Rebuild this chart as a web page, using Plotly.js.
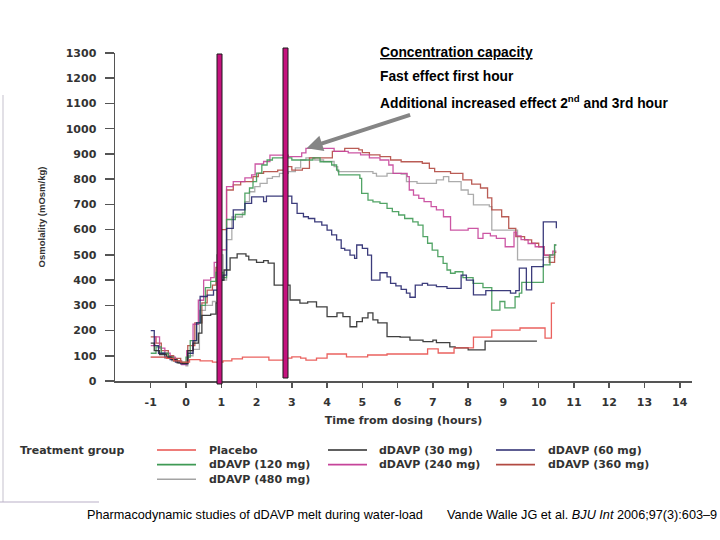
<!DOCTYPE html>
<html>
<head>
<meta charset="utf-8">
<script src="https://cdn.plot.ly/plotly-3.0.1.min.js"></script>
<style>
  html, body { margin: 0; padding: 0; background: #ffffff; }
  #chart { width: 720px; height: 540px; }
</style>
</head>
<body>
<div id="chart"></div>
<script>
// Urine osmolality (mOsm/kg) versus time from dosing (hours), step profiles per treatment group.

const groupNames = ['Placebo', 'dDAVP (30 mg)', 'dDAVP (60 mg)', 'dDAVP (120 mg)', 'dDAVP (240 mg)', 'dDAVP (360 mg)', 'dDAVP (480 mg)'];

const placeboT = [-1, -0.55, -0.35, -0.15, 0.1, 0.4, 0.75, 1.05, 1.3, 1.6, 2.35, 2.85, 3.0, 3.25, 3.4, 3.7, 4.0, 4.55, 5.15, 5.7, 6.85, 7.15, 7.6, 8.15, 8.67, 9.47, 10.18, 10.36, 10.46];
const placeboV = [95, 90, 80, 75, 85, 80, 75, 80, 88, 95, 83, 91, 96, 91, 83, 91, 107, 96, 103, 107, 127, 111, 131, 174, 202, 210, 170, 309, 309];

const dose30T = [-1, -0.9, -0.75, -0.55, -0.4, -0.25, -0.1, 0.05, 0.2, 0.35, 0.45, 0.7, 0.85, 1.0, 1.08, 1.25, 1.45, 1.7, 1.78, 2.0, 2.2, 2.33, 2.5, 2.95, 3.23, 3.45, 3.7, 4.0, 4.28, 4.45, 4.65, 4.84, 5.0, 5.16, 5.3, 5.44, 5.7, 6.07, 6.35, 6.72, 7.0, 7.1, 7.48, 7.63, 8.0, 8.48, 9.95];
const dose30V = [150, 120, 105, 95, 85, 72, 70, 120, 150, 190, 260, 265, 310, 400, 440, 488, 504, 495, 480, 470, 477, 467, 380, 321, 309, 314, 294, 255, 270, 255, 215, 235, 250, 270, 242, 230, 176, 174, 162, 156, 162, 152, 135, 131, 123, 158, 158];

const dose60T = [-1, -0.9, -0.78, -0.6, -0.45, -0.3, -0.15, 0.05, 0.2, 0.3, 0.4, 0.6, 0.78, 0.9, 1.05, 1.15, 1.34, 1.67, 1.86, 2.2, 2.28, 3.0, 3.15, 3.33, 3.47, 3.65, 3.85, 4.0, 4.13, 4.27, 4.4, 4.5, 4.65, 4.78, 4.84, 5.0, 5.15, 5.26, 5.5, 5.7, 5.8, 5.95, 6.1, 6.25, 6.35, 6.5, 6.7, 6.85, 7.1, 7.4, 7.8, 7.95, 8.15, 8.5, 9.2, 9.35, 9.45, 9.65, 9.8, 10.13, 10.5];
const dose60V = [200, 140, 110, 95, 85, 75, 68, 110, 160, 230, 335, 340, 360, 400, 420, 605, 678, 704, 730, 711, 733, 704, 664, 651, 644, 631, 618, 598, 579, 559, 526, 519, 499, 486, 539, 526, 499, 400, 429, 413, 387, 377, 363, 348, 332, 380, 387, 380, 374, 367, 420, 400, 341, 358, 348, 358, 447, 361, 453, 631, 605];

const dose120T = [-1, -0.85, -0.7, -0.5, -0.35, -0.15, 0.0, 0.12, 0.3, 0.42, 0.55, 0.7, 0.85, 1.05, 1.15, 1.4, 1.67, 1.8, 1.9, 2.0, 2.15, 2.3, 2.45, 3.0, 3.6, 3.8, 4.13, 4.27, 4.33, 4.93, 4.98, 5.16, 5.3, 5.5, 5.7, 5.85, 6.03, 6.2, 6.43, 6.58, 6.72, 6.85, 6.98, 7.14, 7.29, 7.4, 7.5, 7.63, 7.85, 8.14, 8.42, 8.67, 8.9, 9.04, 9.33, 9.45, 9.52, 10.13, 10.32, 10.45, 10.5];
const dose120V = [110, 135, 110, 95, 80, 75, 95, 160, 230, 300, 370, 395, 430, 410, 640, 660, 745, 765, 790, 824, 856, 876, 884, 876, 884, 869, 856, 836, 817, 803, 744, 717, 710, 704, 684, 671, 658, 644, 631, 618, 572, 546, 519, 493, 466, 440, 427, 433, 410, 387, 370, 281, 315, 290, 334, 348, 391, 460, 500, 539, 539];

const dose240T = [-1, -0.88, -0.75, -0.6, -0.45, -0.3, -0.12, 0.02, 0.2, 0.35, 0.5, 0.7, 0.8, 0.95, 1.15, 1.34, 1.67, 1.86, 1.96, 2.2, 2.38, 2.9, 3.28, 3.4, 4.2, 4.6, 4.95, 5.2, 5.5, 5.75, 5.87, 6.27, 6.33, 6.45, 6.6, 6.75, 6.95, 7.1, 7.3, 7.5, 8.0, 8.28, 8.42, 8.63, 8.8, 9.05, 9.3, 9.37, 9.5, 9.7, 9.9, 10.15, 10.4, 10.5];
const dose240V = [140, 175, 130, 110, 95, 80, 65, 120, 225, 320, 400, 410, 470, 520, 770, 790, 805, 817, 860, 870, 895, 889, 904, 922, 910, 904, 896, 884, 876, 856, 823, 810, 757, 737, 724, 711, 691, 678, 651, 598, 605, 565, 585, 575, 565, 532, 590, 575, 560, 545, 532, 499, 515, 515];

const dose360T = [-1, -0.85, -0.7, -0.5, -0.35, -0.15, 0.05, 0.25, 0.45, 0.6, 0.75, 0.85, 1.0, 1.15, 1.34, 1.55, 1.9, 2.05, 2.2, 2.6, 2.85, 3.0, 3.3, 3.5, 4.15, 4.5, 4.9, 5.0, 5.2, 5.5, 5.8, 6.1, 6.7, 6.9, 7.05, 7.5, 7.85, 8.1, 8.35, 8.55, 8.67, 8.95, 9.15, 9.35, 9.6, 9.8, 10.0, 10.15, 10.3, 10.45, 10.5];
const dose360V = [175, 150, 120, 100, 90, 72, 140, 230, 310, 360, 380, 450, 600, 757, 777, 790, 810, 823, 830, 836, 850, 836, 843, 884, 910, 922, 916, 905, 896, 889, 876, 869, 863, 843, 830, 823, 797, 780, 765, 726, 678, 651, 605, 572, 559, 546, 532, 499, 470, 510, 510];

const dose480T = [-1, -0.6, -0.4, -0.2, 0.0, 0.05, 0.2, 0.38, 0.55, 0.75, 0.87, 1.05, 1.15, 1.3, 1.6, 1.67, 1.8, 1.95, 2.1, 2.3, 2.45, 2.65, 2.9, 3.1, 3.25, 3.4, 3.65, 3.9, 4.2, 4.3, 5.3, 5.4, 5.7, 6.1, 6.25, 6.55, 7.1, 7.3, 7.45, 7.8, 8.0, 8.15, 8.6, 8.67, 9.4, 10.13, 10.45, 10.5];
const dose480V = [95, 90, 80, 70, 60, 100, 125, 280, 300, 315, 500, 400, 560, 650, 666, 711, 750, 770, 783, 803, 810, 823, 830, 845, 876, 884, 876, 870, 850, 830, 823, 812, 823, 820, 790, 783, 797, 810, 790, 757, 740, 698, 691, 598, 480, 490, 539, 539];

const groupColors = ['#e8504c', '#2b2b2b', '#27276e', '#3f9a55', '#c6449a', '#b24a42', '#a3a3a3'];

const xTicks = [-1, 0, 1, 2, 3, 4, 5, 6, 7, 8, 9, 10, 11, 12, 13, 14];
const yTicks = [0, 100, 200, 300, 400, 500, 600, 700, 800, 900, 1000, 1100, 1200, 1300];

const seriesT = [placeboT, dose30T, dose60T, dose120T, dose240T, dose360T, dose480T];
const seriesV = [placeboV, dose30V, dose60V, dose120V, dose240V, dose360V, dose480V];

// Lower-dose traces drawn last so they sit on top, as in the printed figure.
const drawOrder = [6, 5, 4, 3, 2, 1, 0];
const traces = drawOrder.map(i => ({
  type: 'scatter',
  mode: 'lines',
  name: groupNames[i],
  x: seriesT[i],
  y: seriesV[i],
  line: { shape: 'hv', color: groupColors[i], width: 1.3 },
  opacity: 0.9,
  showlegend: false,
  hoverinfo: 'skip'
}));

// Page geometry (pixels) for the framed plot area.
const W = 720, H = 540;
const M = { l: 115, r: 28, t: 53, b: 159 };
const plotW = W - M.l - M.r, plotH = H - M.t - M.b;
const px = x => (x - M.l) / plotW;
const py = y => (H - M.b - y) / plotH;

const tickFont = { family: 'DejaVu Sans, Verdana, sans-serif', size: 11, color: '#333333', weight: 'bold' };
const legendFont = { family: 'DejaVu Sans, Verdana, sans-serif', size: 11, color: '#333333', weight: 'bold' };
const noteFont = { family: 'Liberation Sans, Arial, sans-serif', size: 13.8, color: '#000000', weight: 'bold' };
const captionFont = { family: 'Liberation Sans, Arial, sans-serif', size: 12.7, color: '#000000' };

const shapes = [];
const annotations = [];

// Marker bars at the end of the first hour and near the third hour.
const markerBars = [
  { x0: 0.879, x1: 1.021, y0: py(384), y1: py(54) },
  { x0: 2.750, x1: 2.892, y0: py(378), y1: py(48) }
];
markerBars.forEach(b => shapes.push({
  type: 'rect', xref: 'x', yref: 'paper', x0: b.x0, x1: b.x1, y0: b.y0, y1: b.y1,
  fillcolor: '#c5127e', line: { color: '#1a1a1a', width: 1 }, layer: 'above'
}));

// Side frame of the figure panel.
shapes.push({ type: 'line', xref: 'paper', yref: 'paper', x0: px(3), x1: px(3), y0: py(95), y1: py(502), line: { color: '#cfcbd6', width: 1.2 } });
shapes.push({ type: 'line', xref: 'paper', yref: 'paper', x0: px(0), x1: px(99), y0: py(502), y1: py(502), line: { color: '#b9b0c8', width: 1.2 } });

// Legend block: "Treatment group" with three columns of line samples.
annotations.push({ xref: 'paper', yref: 'paper', x: px(18), y: py(450), xanchor: 'left', yanchor: 'middle', showarrow: false, text: 'Treatment group', font: legendFont });
const colLine = [157, 328, 496];
const colText = [207, 377, 546];
groupNames.forEach((name, i) => {
  const c = i % 3, r = Math.floor(i / 3);
  const yy = 450 + r * 14.6;
  shapes.push({ type: 'line', xref: 'paper', yref: 'paper', x0: px(colLine[c]), x1: px(colLine[c] + 39), y0: py(yy), y1: py(yy), line: { color: groupColors[i], width: 1.6 } });
  annotations.push({ xref: 'paper', yref: 'paper', x: px(colText[c]), y: py(yy), xanchor: 'left', yanchor: 'middle', showarrow: false, text: name, font: legendFont });
});

// Notes on the concentrating effect.
annotations.push({ xref: 'paper', yref: 'paper', x: px(378), y: py(52), xanchor: 'left', yanchor: 'middle', showarrow: false, text: '<u>Concentration capacity</u>', font: noteFont });
annotations.push({ xref: 'paper', yref: 'paper', x: px(378), y: py(77), xanchor: 'left', yanchor: 'middle', showarrow: false, text: 'Fast effect first hour', font: noteFont });
annotations.push({ xref: 'paper', yref: 'paper', x: px(378), y: py(102), xanchor: 'left', yanchor: 'middle', showarrow: false, text: 'Additional increased effect 2<sup>nd</sup> and 3rd hour', font: noteFont });

// Arrow pointing at the peak of the upper curves.
annotations.push({ xref: 'x', yref: 'y', x: 3.42, y: 922, ax: 105, ay: -34, showarrow: true, text: '', arrowhead: 2, arrowsize: 0.8, arrowwidth: 4, arrowcolor: '#858585', standoff: 0 });

// Source line.
annotations.push({ xref: 'paper', yref: 'paper', x: px(85), y: py(515), xanchor: 'left', yanchor: 'middle', showarrow: false, text: 'Pharmacodynamic studies of dDAVP melt during water-load', font: captionFont });
annotations.push({ xref: 'paper', yref: 'paper', x: px(445), y: py(515), xanchor: 'left', yanchor: 'middle', showarrow: false, text: 'Vande Walle JG et al. <i>BJU Int</i> 2006;97(3):603–9', font: captionFont });

const layout = {
  width: W, height: H,
  margin: M,
  paper_bgcolor: '#ffffff',
  plot_bgcolor: '#ffffff',
  showlegend: false,
  xaxis: {
    range: [(M.l - 186) / 35.27, (W - M.r - 186) / 35.27],
    tickvals: xTicks,
    ticktext: xTicks.map(String),
    showgrid: false, zeroline: false,
    showline: true, linecolor: '#555555', linewidth: 1.5,
    ticks: 'outside', ticklen: 5, tickwidth: 1.5, tickcolor: '#555555',
    ticklabelstandoff: 5,
    tickfont: tickFont,
    title: { text: 'Time from dosing (hours)', font: tickFont, standoff: 8 },
    fixedrange: true
  },
  yaxis: {
    range: [0, 1300],
    tickvals: yTicks,
    showgrid: false, zeroline: false,
    showline: true, linecolor: '#555555', linewidth: 1.5,
    ticks: 'outside', ticklen: 9, tickwidth: 1.5, tickcolor: '#555555',
    ticklabelstandoff: 6,
    tickfont: tickFont,
    title: { text: 'Osmolality (mOsm/kg)', font: { family: 'Liberation Sans, Arial, sans-serif', size: 9.5, color: '#333333', weight: 'bold' }, standoff: 18 },
    fixedrange: true
  },
  shapes: shapes,
  annotations: annotations
};

Plotly.newPlot('chart', traces, layout, { staticPlot: true, displayModeBar: false });
</script>
</body>
</html>
